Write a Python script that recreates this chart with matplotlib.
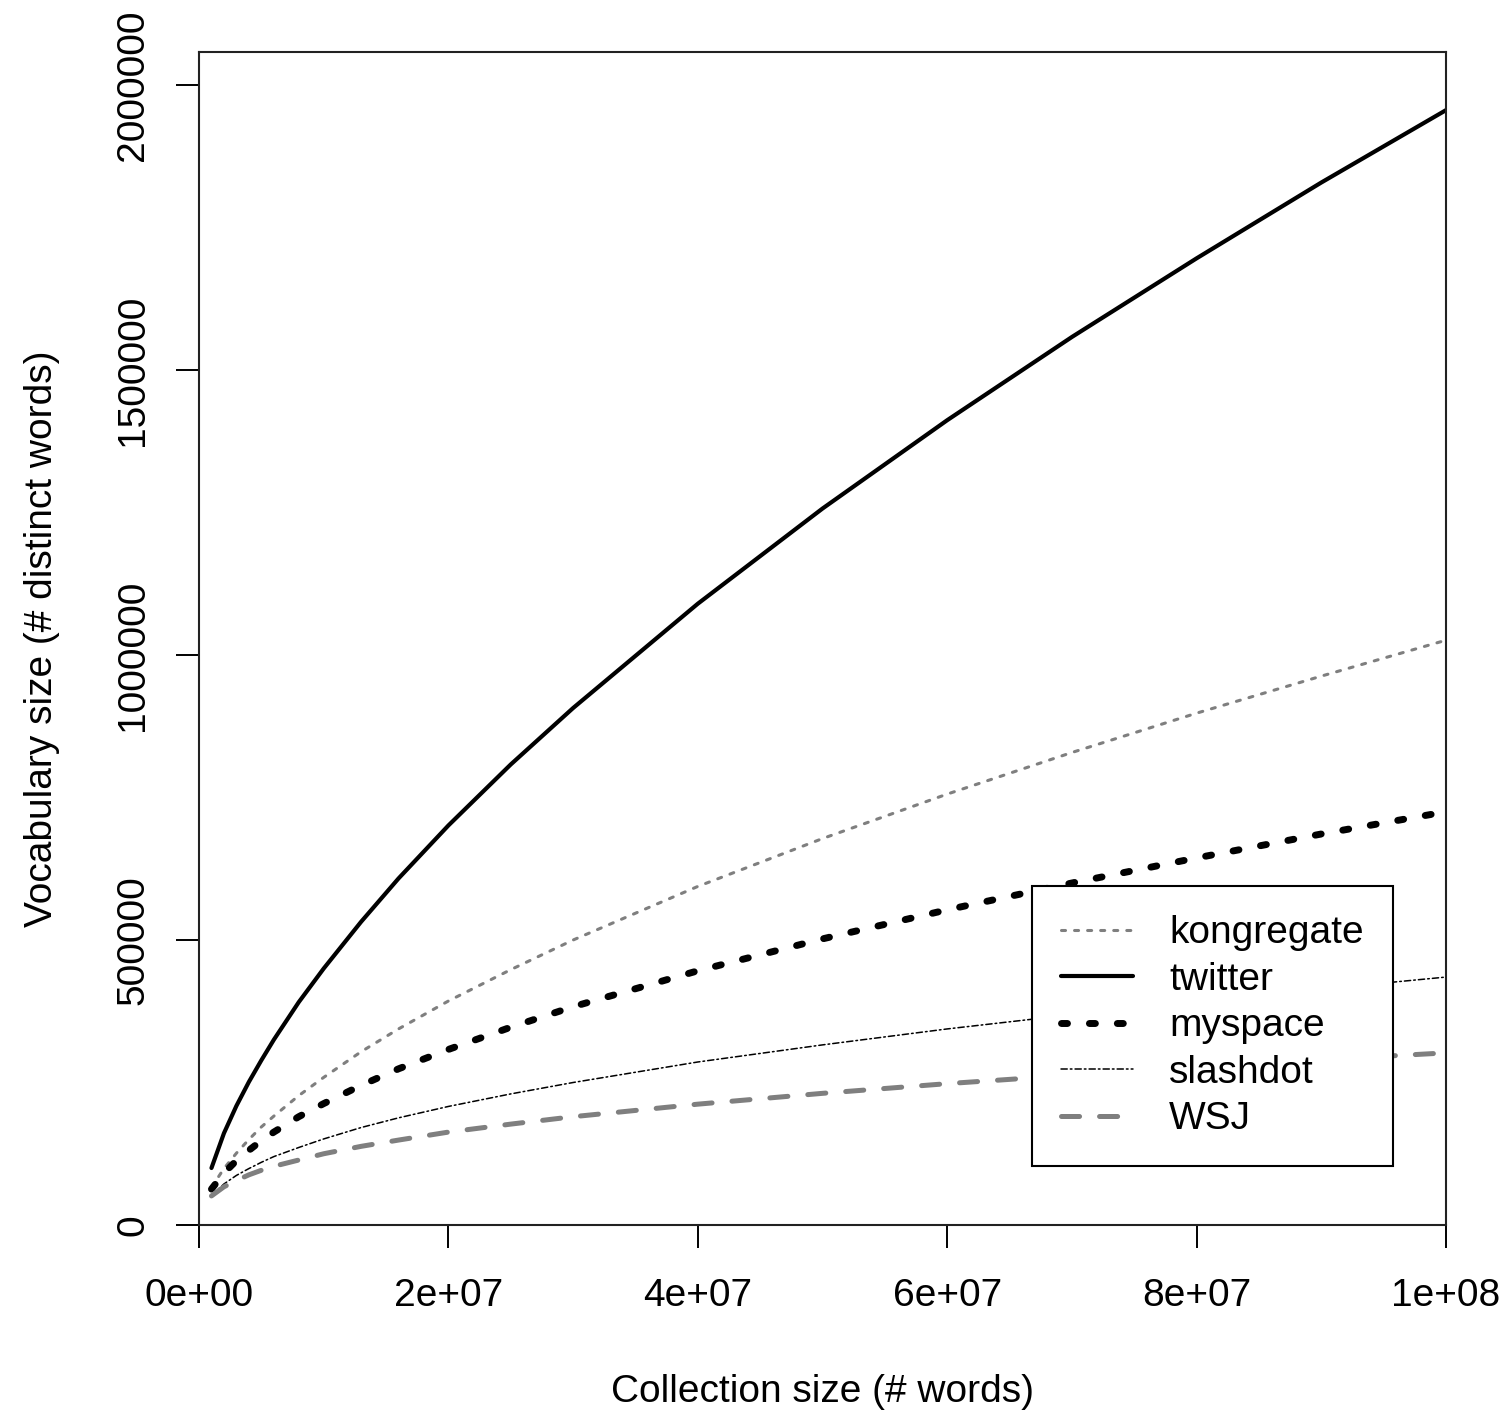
#!/usr/bin/env python3
"""Heaps' law style vocabulary growth: distinct words vs collection size."""
import matplotlib

matplotlib.use("Agg")
import matplotlib.pyplot as plt

# collection size (# words), values at these points
collection = [1e6, 2e6, 3e6, 4e6, 5e6, 6e6, 8e6, 1e7, 1.3e7, 1.6e7, 2e7, 2.5e7,
              3e7, 4e7, 5e7, 6e7, 7e7, 8e7, 9e7, 1e8]

kongregate = [66e3, 99e3, 126e3, 150e3, 172e3, 191e3, 227e3, 259e3, 304e3, 344e3,
              393e3, 448e3, 500e3, 594e3, 678e3, 756e3, 829e3, 898e3, 963e3, 1026e3]
twitter = [100e3, 161e3, 209e3, 251e3, 289e3, 325e3, 391e3, 450e3, 532e3, 608e3,
           701e3, 808e3, 907e3, 1090e3, 1257e3, 1412e3, 1558e3, 1696e3, 1829e3, 1956e3]
myspace = [63e3, 91e3, 113e3, 131e3, 148e3, 163e3, 190e3, 213e3, 245e3, 274e3,
           308e3, 347e3, 383e3, 446e3, 502e3, 553e3, 600e3, 644e3, 686e3, 725e3]
slashdot = [52e3, 72e3, 87e3, 99e3, 110e3, 120e3, 136e3, 151e3, 171e3, 188e3,
            208e3, 230e3, 250e3, 286e3, 316e3, 344e3, 369e3, 393e3, 414e3, 435e3]
wsj = [51e3, 67e3, 78e3, 88e3, 96e3, 103e3, 114e3, 125e3, 138e3, 149e3,
       163e3, 177e3, 190e3, 212e3, 231e3, 248e3, 263e3, 277e3, 290e3, 302e3]

series_names = ["kongregate", "twitter", "myspace", "slashdot", "WSJ"]
x_ticks = [0, 2e7, 4e7, 6e7, 8e7, 1e8]
x_ticklabels = ["0e+00", "2e+07", "4e+07", "6e+07", "8e+07", "1e+08"]
y_ticks = [0, 500000, 1000000, 1500000, 2000000]
y_ticklabels = ["0", "500000", "1000000", "1500000", "2000000"]

plt.rcParams["font.family"] = ["Liberation Sans", "DejaVu Sans"]
plt.rcParams["lines.scale_dashes"] = False

W, H, DPI = 1509, 1413, 100
fig = plt.figure(figsize=(W / DPI, H / DPI), dpi=DPI)
left, right, top, bottom = 199, 1446, 52, 1225
ax = fig.add_axes([left / W, (H - bottom) / H, (right - left) / W, (bottom - top) / H])

styles = {
    "kongregate": dict(color="#7f7f7f", lw=2.2, ls=(0, (2.9, 6.5))),
    "twitter": dict(color="black", lw=3.0, ls="-"),
    "myspace": dict(color="black", lw=5.0, ls=(0, (4.3, 15.8))),
    "slashdot": dict(color="black", lw=1.1, ls=(0, (4.5, 2.2, 1.2, 2.2))),
    "WSJ": dict(color="#7f7f7f", lw=3.6, ls=(0, (13.0, 14.4))),
}
for name, vals in zip(series_names, [kongregate, twitter, myspace, slashdot, wsj]):
    st = styles[name]
    ax.plot(collection, vals, color=st["color"], linewidth=st["lw"],
            linestyle=st["ls"], dash_capstyle="round", solid_capstyle="round",
            solid_joinstyle="round", label=name)

ax.set_xlim(0, 1e8)
ax.set_ylim(0, 2.058e6)
ax.set_xticks(x_ticks)
ax.set_xticklabels(x_ticklabels)
ax.set_yticks(y_ticks)
ax.set_yticklabels(y_ticklabels, rotation=90, va="center")
ax.tick_params(axis="both", direction="out", length=16.5, width=1.4,
               labelsize=28, colors="black")
ax.tick_params(axis="x", pad=22)
ax.tick_params(axis="y", pad=18)
for sp in ax.spines.values():
    sp.set_linewidth(1.5)
    sp.set_color("#222222")

ax.set_xlabel("Collection size (# words)", fontsize=28, labelpad=43)
ax.set_ylabel("Vocabulary size (# distinct words)", fontsize=28, labelpad=40)

leg = ax.legend(loc="upper left", bbox_to_anchor=(0.668, 0.289), fontsize=28,
                frameon=True, fancybox=False, framealpha=1.0, edgecolor="black",
                borderpad=0.75, handlelength=1.85, handletextpad=0.93,
                labelspacing=0.27, borderaxespad=0.0)
leg.get_frame().set_linewidth(1.5)

fig.savefig("out.png", dpi=DPI)
